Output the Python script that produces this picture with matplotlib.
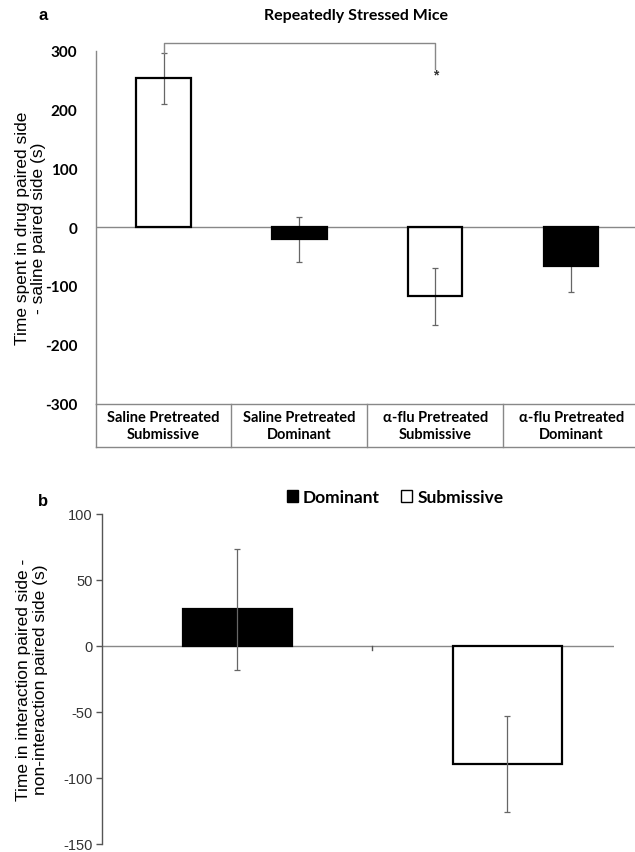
import matplotlib
matplotlib.use("Agg")
import matplotlib.pyplot as plt
from matplotlib.patches import Patch
import matplotlib.transforms as mtransforms

# ---------------- data ----------------
cats_a = ["Saline Pretreated\nSubmissive", "Saline Pretreated\nDominant",
          "\u03b1-flu Pretreated\nSubmissive", "\u03b1-flu Pretreated\nDominant"]
vals_a = [253, -21, -118, -67]
errs_a = [43, 38, 49, 44]
fills_a = ["none", "black", "none", "black"]
yticks_a = [-300, -200, -100, 0, 100, 200, 300]

cats_b = ["Dominant", "Submissive"]
vals_b = [27.6, -89.6]
errs_b = [45.7, 36.5]
fills_b = ["black", "white"]
yticks_b = [-150, -100, -50, 0, 50, 100]

sig_pair = (0, 2)
sig_y_top = 313
sig_y_right = 269
sig_star_y = 260

W, H = 635, 853
GRAY = "#888888"
CAL = ["Lato", "DejaVu Sans"]
ARI = ["Liberation Sans", "DejaVu Sans"]

fig = plt.figure(figsize=(W / 100, H / 100), dpi=100)

def rect(l, t, r, b):
    return [l / W, 1 - b / H, (r - l) / W, (b - t) / H]

# ---------------- panel a ----------------
ax = fig.add_axes(rect(95.6, 51.7, 635, 404.5))
xa = list(range(len(vals_a)))
ax.errorbar(xa, vals_a, yerr=errs_a, fmt="none", ecolor="#666666", elinewidth=0.9,
            capsize=2.2, capthick=0.9, zorder=1.5)
ax.bar(xa, vals_a, width=0.40, color=fills_a, edgecolor="black", linewidth=1.6, zorder=2)
ax.set_xlim(-0.5, 3.47)
ax.set_ylim(-300, 300)
ax.axhline(0, color=GRAY, lw=1.0, zorder=1)
for s in ["top", "right"]:
    ax.spines[s].set_visible(False)
for s in ["left", "bottom"]:
    ax.spines[s].set_color(GRAY)
    ax.spines[s].set_linewidth(1.0)
ax.set_yticks(yticks_a)
ax.set_yticklabels([str(v) for v in yticks_a], family=CAL, fontweight="bold", fontsize=11)
ax.tick_params(axis="y", length=0, pad=13)
ax.set_xticks(xa)
ax.set_xticklabels(cats_a, family=CAL, fontweight="bold", fontsize=10.5, linespacing=1.25)
ax.tick_params(axis="x", length=0, pad=5)
ax.set_ylabel("Time spent in drug paired side\n- saline paired side (s)",
              family=ARI, fontsize=12.5, linespacing=1.15, labelpad=-1)
# table lines
trans = mtransforms.blended_transform_factory(ax.transData, ax.transAxes)
tb = -(447.7 - 404.5) / (404.5 - 51.7)
for bx in [-0.5, 0.5, 1.5, 2.5]:
    ax.plot([bx, bx], [0, tb], transform=trans, color=GRAY, lw=1.0, clip_on=False)
ax.plot([-0.5, 3.47], [tb, tb], transform=trans, color=GRAY, lw=1.0, clip_on=False)
# significance bracket
x0, x1 = sig_pair
ax.plot([x0, x0, x1, x1], [vals_a[x0] + errs_a[x0], sig_y_top, sig_y_top, sig_y_right],
        color=GRAY, lw=1.0, clip_on=False)
ax.text(x1, sig_star_y, "*", ha="center", va="center", fontsize=10, color="#333333",
        family=ARI, fontweight="bold")

fig.text(355.6 / W, 1 - 16 / H, "Repeatedly Stressed Mice", ha="center", va="center",
         family=CAL, fontweight="bold", fontsize=11.5)
fig.text(43 / W, 1 - 15 / H, "a", ha="center", va="center", family=ARI,
         fontweight="bold", fontsize=12)

# ---------------- panel b ----------------
bx_ = fig.add_axes(rect(102.4, 514.7, 614, 845))
xb = list(range(len(vals_b)))
bx_.bar(xb, vals_b, width=0.405, color=fills_b, edgecolor="black", linewidth=1.6, zorder=2)
bx_.errorbar(xb, vals_b, yerr=errs_b, fmt="none", ecolor="#666666", elinewidth=0.9,
             capsize=2.2, capthick=0.9, zorder=3)
bx_.set_xlim(-0.5, 1.395)
bx_.set_ylim(-150, 100)
bx_.axhline(0, color=GRAY, lw=1.0, zorder=1)
for s in ["top", "right", "bottom"]:
    bx_.spines[s].set_visible(False)
bx_.spines["left"].set_color("#555555")
bx_.spines["left"].set_linewidth(1.0)
bx_.set_yticks(yticks_b)
bx_.set_yticklabels([str(v) for v in yticks_b], family=ARI, fontsize=10.5, color="#333333")
bx_.tick_params(axis="y", length=4, width=1.0, color="#555555", pad=3)
bx_.set_xticks([])
transb = mtransforms.blended_transform_factory(bx_.transData, bx_.transAxes)
z0 = (0 - (-150)) / 250
bx_.plot([0.5, 0.5], [z0, z0 - 4 / 330], transform=transb, color="#555555", lw=1.0)
bx_.set_ylabel("Time in interaction paired side -\nnon-interaction paired side (s)",
               family=ARI, fontsize=12.5, linespacing=1.15, labelpad=11)

handles = [Patch(facecolor=c, edgecolor="black", linewidth=1.0) for c in fills_b]
fig.legend(handles, cats_b, loc="center", bbox_to_anchor=(395 / W, 1 - 498 / H),
           ncol=2, frameon=False, prop={"family": CAL, "weight": "bold", "size": 12.5},
           handlelength=0.65, handleheight=0.65, handletextpad=0.3, columnspacing=1.2)
fig.text(42.5 / W, 1 - 501.7 / H, "b", ha="center", va="center", family=ARI,
         fontweight="bold", fontsize=12)

fig.savefig("out.png", dpi=100)
